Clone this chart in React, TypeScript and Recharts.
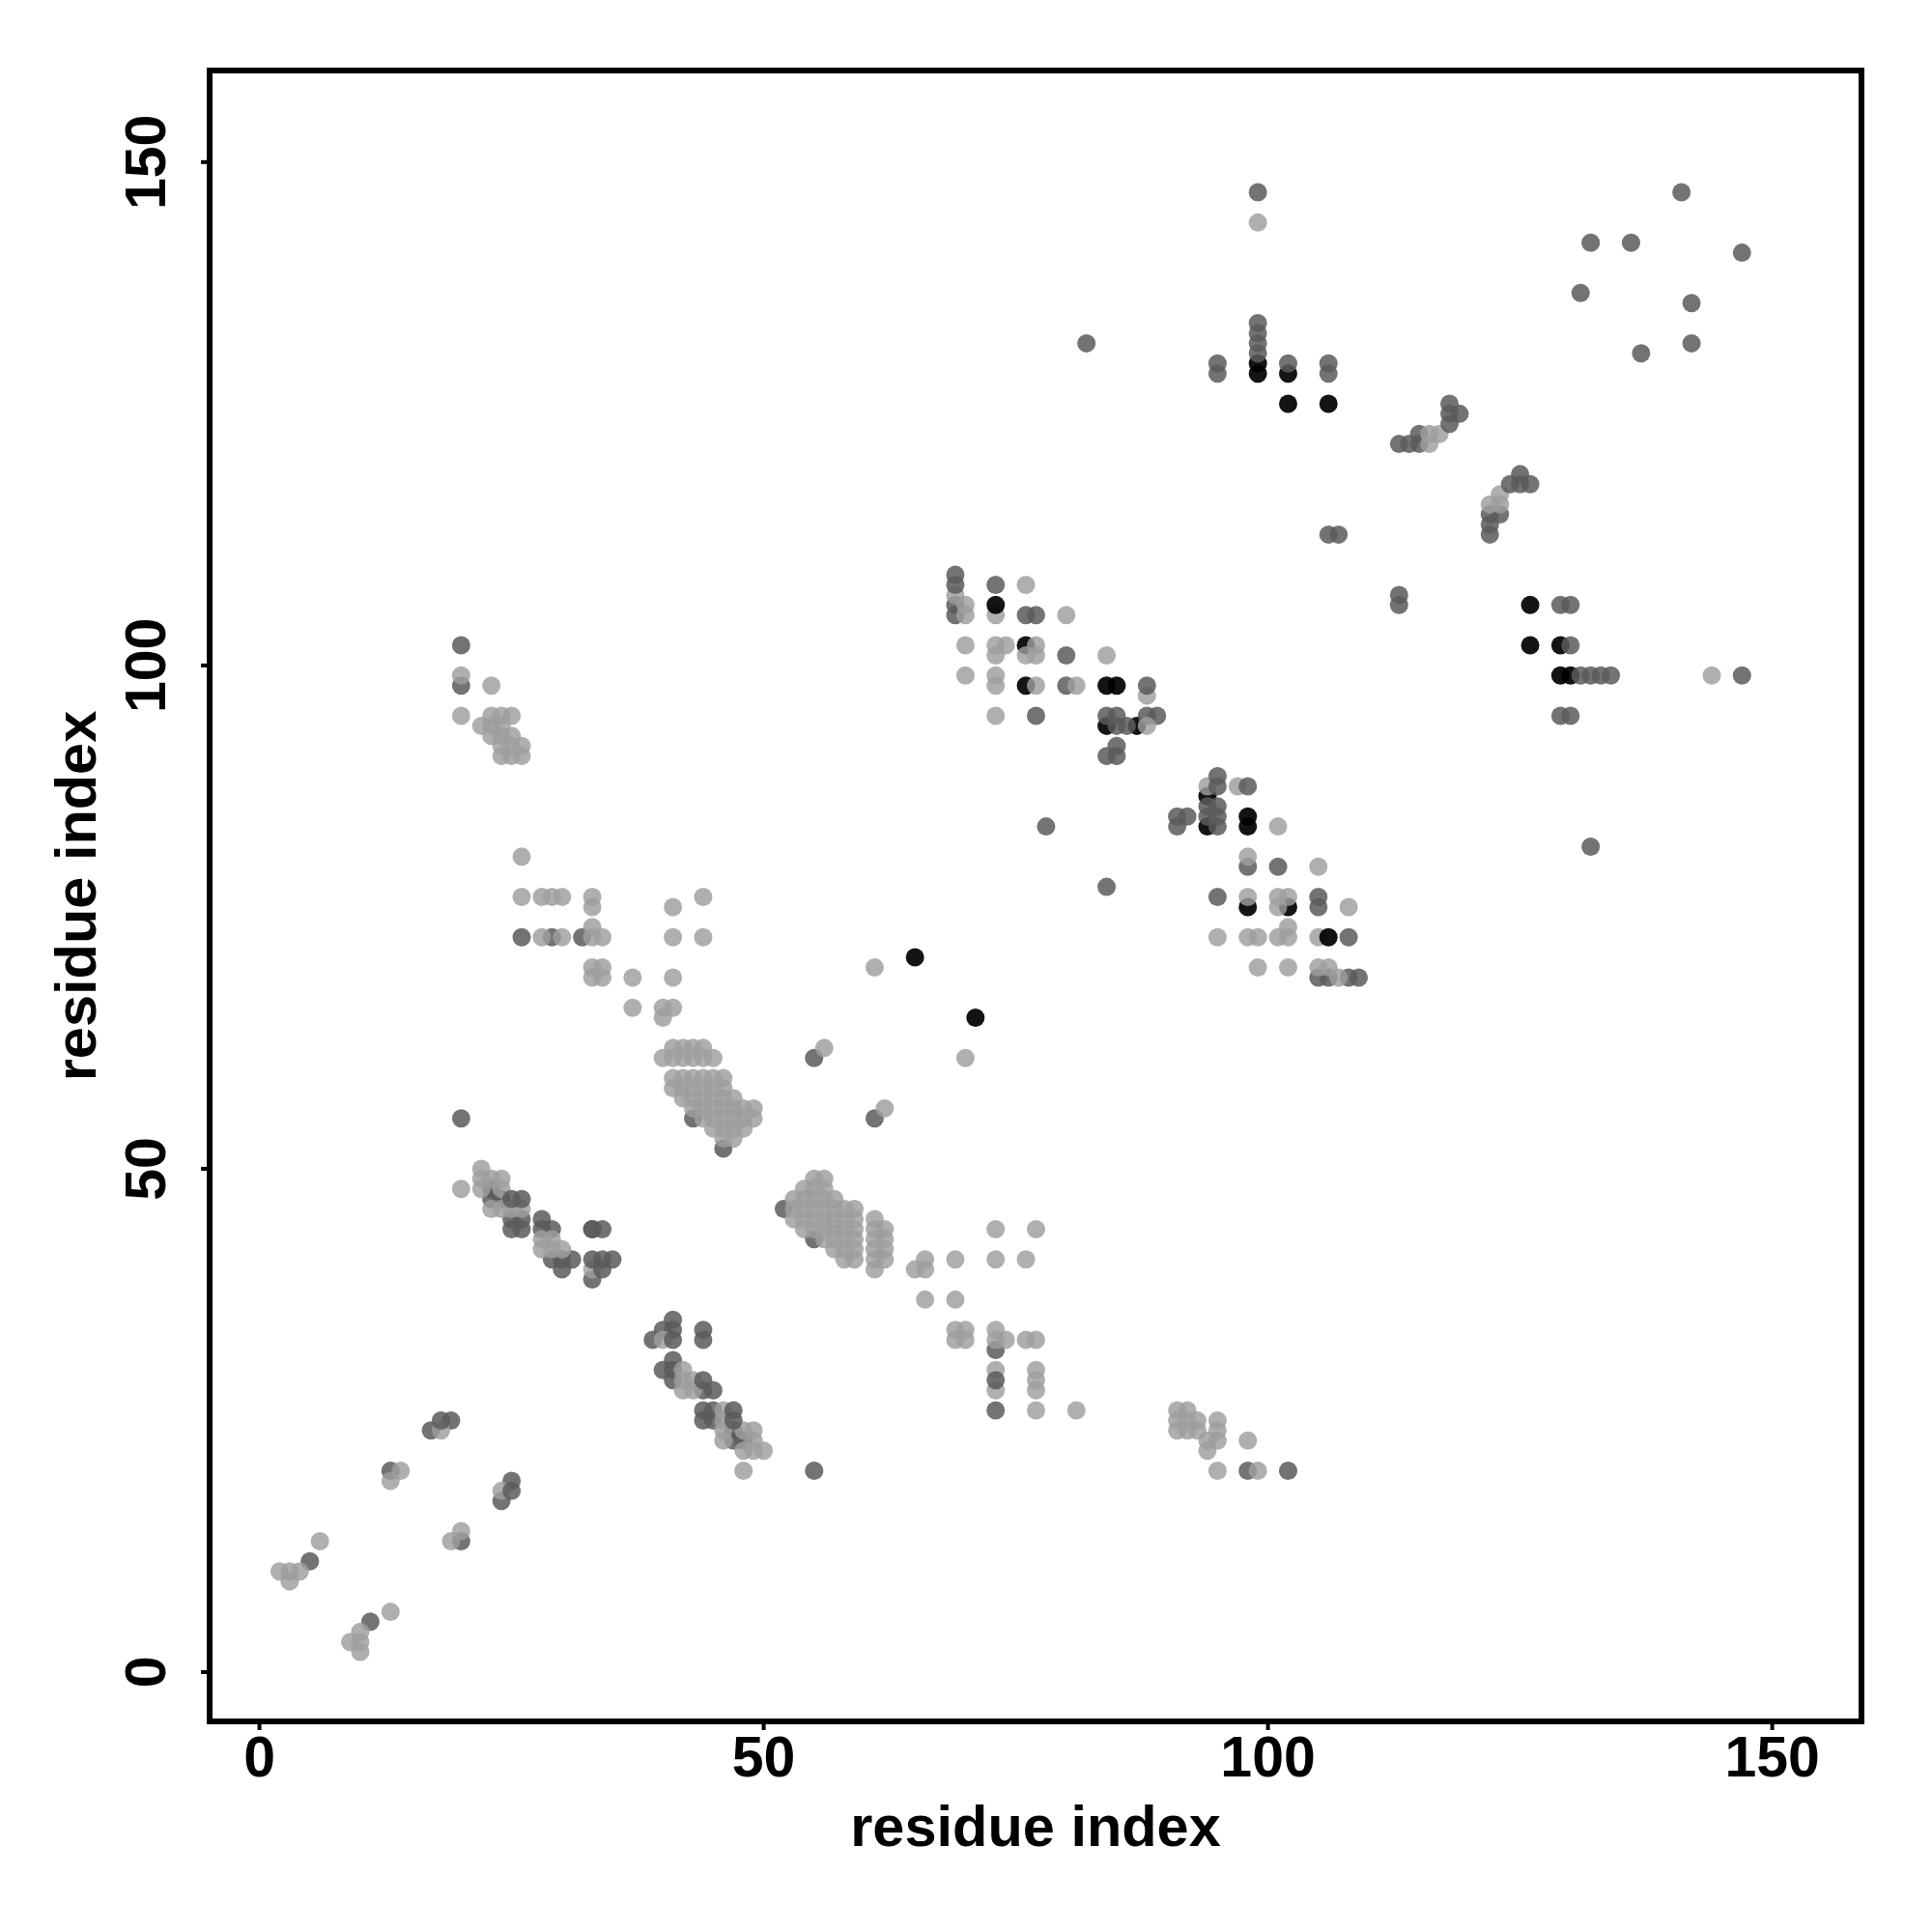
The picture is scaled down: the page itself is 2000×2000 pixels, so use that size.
import { ScatterChart, Scatter, XAxis, YAxis, ReferenceArea, Label } from "recharts";

const xTicks = [0, 50, 100, 150];
const yTicks = [0, 50, 100, 150];
const axisTitle = "residue index";
const xDomain = [-4.94, 158.85];
const yDomain = [-4.9, 159.1];

// contacts as [residue, residue]
const darkContacts = [
  [65, 71], [71, 65], [76, 102], [76, 98], [84, 98], [85, 98], [84, 94], [87, 94],
  [94, 87], [94, 84], [98, 85], [98, 84], [98, 76], [102, 76],
  [99, 130], [99, 129], [102, 129], [102, 126], [106, 126],
  [126, 106], [126, 102], [129, 102], [129, 99], [130, 99],
];
const midContacts = [
  [11, 5], [5, 11], [20, 13], [24, 17], [25, 19], [13, 20], [17, 24], [19, 25], [20, 55],
  [23, 48], [23, 47], [24, 47], [25, 45], [26, 45], [25, 44], [26, 44],
  [28, 45], [28, 44], [29, 44], [29, 41], [30, 41], [30, 40], [31, 41],
  [33, 44], [34, 44], [35, 41], [33, 39],
  [41, 35], [40, 34], [41, 34], [39, 33], [44, 34], [44, 33],
  [41, 31], [40, 30], [41, 30], [41, 29], [44, 28], [45, 28],
  [44, 26], [45, 26], [44, 25], [45, 25], [47, 24], [47, 23], [48, 23],
  [55, 20], [98, 20], [102, 20], [43, 55], [46, 52], [55, 61], [61, 55], [52, 46], [55, 43],
  [73, 32], [73, 26], [20, 102], [20, 98], [26, 73], [29, 73], [32, 73],
  [69, 106], [69, 105], [73, 108], [76, 105], [77, 105], [80, 101], [80, 98],
  [77, 95], [84, 95], [85, 95], [85, 94], [86, 94], [88, 95], [89, 95],
  [85, 92], [84, 91], [85, 91], [78, 84], [91, 85], [91, 84], [92, 85],
  [94, 86], [94, 85], [95, 86], [95, 85], [95, 84],
  [98, 80], [101, 80], [95, 77], [105, 77], [105, 76], [108, 73],
  [105, 69], [106, 69], [108, 69], [109, 69],
  [99, 147], [141, 147], [132, 142], [136, 142], [147, 141], [131, 137],
  [142, 136], [142, 132], [137, 131], [82, 132],
  [99, 134], [99, 133], [99, 132], [99, 131], [95, 130], [95, 129],
  [102, 130], [106, 130], [106, 129],
  [118, 126], [118, 125], [119, 125], [115, 123], [115, 122], [114, 122], [113, 122],
  [125, 119], [125, 118], [126, 118], [122, 115], [123, 115], [122, 114], [122, 113],
  [106, 113], [107, 113], [113, 107], [113, 106], [129, 106], [130, 106], [130, 102],
  [131, 99], [132, 99], [133, 99], [134, 99], [147, 99], [129, 95], [130, 95],
  [132, 82], [84, 78],
];
const lightContacts = [
  [10, 2], [9, 3], [10, 3], [10, 4], [13, 6], [3, 9], [2, 10], [3, 10], [4, 10], [6, 13],
  [19, 13], [20, 14], [24, 18], [13, 19], [14, 20], [18, 24], [20, 48],
  [22, 50], [22, 49], [22, 48], [23, 49], [24, 49], [24, 48], [23, 46], [24, 46], [25, 46], [26, 46],
  [28, 43], [28, 42], [29, 43], [29, 42], [30, 42], [33, 40],
  [40, 33], [42, 30], [42, 29], [42, 28], [43, 29], [43, 28],
  [46, 26], [46, 25], [46, 24], [46, 23], [48, 24], [49, 24], [49, 23], [48, 22], [49, 22], [50, 22], [48, 20],
  [41, 62], [42, 62], [43, 62], [44, 62], [40, 61], [41, 61], [42, 61], [43, 61], [44, 61], [45, 61],
  [41, 59], [42, 59], [43, 59], [44, 59], [45, 59], [46, 59],
  [41, 58], [42, 58], [43, 58], [44, 58], [45, 58], [46, 58],
  [42, 57], [43, 57], [44, 57], [45, 57], [46, 57], [47, 57],
  [43, 56], [44, 56], [45, 56], [46, 56], [47, 56], [48, 56], [49, 56],
  [44, 55], [45, 55], [46, 55], [47, 55], [48, 55], [49, 55],
  [45, 54], [46, 54], [47, 54], [48, 54], [46, 53], [47, 53],
  [56, 62], [62, 56],
  [55, 49], [56, 49], [54, 48], [55, 48], [56, 48], [53, 47], [54, 47], [55, 47], [56, 47], [57, 47],
  [53, 46], [54, 46], [55, 46], [56, 46], [57, 46], [58, 46], [59, 46],
  [53, 45], [54, 45], [55, 45], [56, 45], [57, 45], [58, 45], [59, 45],
  [54, 44], [55, 44], [56, 44], [57, 44], [58, 44], [59, 44],
  [56, 43], [57, 43], [58, 43], [59, 43], [57, 42], [58, 42], [59, 42], [58, 41], [59, 41],
  [61, 45], [61, 44], [61, 43], [61, 42], [61, 41], [61, 40], [62, 44], [62, 43], [62, 42], [62, 41],
  [65, 40], [66, 40], [66, 41], [69, 41], [73, 41], [76, 41], [73, 44], [77, 44],
  [66, 37], [69, 37], [69, 34], [70, 34], [69, 33], [70, 33],
  [73, 34], [73, 33], [74, 33], [76, 33], [77, 33], [73, 30], [73, 28],
  [77, 30], [77, 29], [77, 28], [77, 26], [81, 26],
  [91, 26], [92, 26], [91, 25], [92, 25], [91, 24], [92, 24], [93, 25], [93, 24],
  [95, 25], [95, 24], [95, 23], [94, 23], [94, 22], [95, 20], [98, 23], [99, 20],
  [20, 99], [23, 98], [20, 95], [23, 95], [24, 95], [25, 95], [22, 94], [23, 94], [24, 94],
  [23, 93], [24, 93], [25, 93], [24, 92], [25, 92], [26, 92], [24, 91], [25, 91], [26, 91],
  [26, 81], [26, 77], [28, 77], [29, 77], [30, 77], [33, 77], [33, 76], [33, 74], [33, 73], [34, 73],
  [28, 73], [30, 73], [41, 76], [44, 77], [41, 73], [44, 73],
  [33, 70], [34, 70], [33, 69], [34, 69], [37, 69], [41, 69], [37, 66], [40, 66], [41, 66], [40, 65],
  [61, 70], [70, 61],
  [69, 107], [70, 106], [70, 105], [73, 105], [76, 108], [80, 105],
  [70, 102], [73, 102], [74, 102], [73, 101], [77, 102], [76, 101], [77, 101], [84, 101],
  [70, 99], [73, 99], [73, 98], [77, 98], [81, 98], [88, 97], [73, 95], [88, 94],
  [94, 88], [97, 88], [101, 84], [98, 81], [105, 80],
  [98, 77], [101, 77], [102, 77], [101, 76], [108, 76], [102, 74],
  [95, 73], [98, 73], [99, 73], [101, 73], [102, 73], [105, 73],
  [99, 70], [102, 70], [105, 70], [106, 70], [107, 69],
  [99, 144], [117, 123], [116, 123], [116, 122], [123, 117], [122, 116], [123, 116], [144, 99],
];
// these sit over the light dots in the reference
const midOnTop = [
  [18, 25], [25, 18], [25, 47], [26, 47], [33, 41], [34, 41], [33, 44], [34, 40], [41, 33], [44, 29],
  [47, 26], [47, 25], [73, 29], [69, 109], [69, 108], [88, 98], [95, 89], [95, 88], [98, 88], [118, 124], [124, 118],
];
const darkOnTop = [[73, 106], [106, 73]];

const LIGHT = "#9e9e9e";
const MID = "#5a5a5a";
const DARK = "#000000";
const FONT = "'Liberation Sans', Arial, sans-serif";

const toPoints = (pairs: number[][]) => pairs.map(([x, y]) => ({ x, y }));

function dot(fill: string, opacity: number) {
  return (props: any) => <circle cx={props.cx} cy={props.cy} r={9.5} fill={fill} fillOpacity={opacity} />;
}

function XTick({ x, y, payload }: any) {
  return (
    <text x={x} y={y + 46} textAnchor="middle" fontSize={59} fontWeight="bold" fontFamily={FONT} fill="#000">
      {payload.value}
    </text>
  );
}

function YTick({ x, y, payload }: any) {
  return (
    <text
      x={x}
      y={y}
      dy={-35}
      transform={`rotate(-90 ${x} ${y})`}
      textAnchor="middle"
      fontSize={59}
      fontWeight="bold"
      fontFamily={FONT}
      fill="#000"
    >
      {payload.value}
    </text>
  );
}

const titleStyle = { fontSize: 59.5, fontWeight: "bold", fontFamily: FONT, fill: "#000" };

export default function App() {
  return (
    <div style={{ position: "absolute", left: 0, top: 0, width: 2000, height: 2000, background: "#fff" }}>
      <ScatterChart width={2000} height={2000} margin={{ top: 73, right: 73, bottom: 0, left: 0 }}>
        <XAxis
          type="number"
          dataKey="x"
          domain={xDomain}
          ticks={xTicks}
          height={218}
          interval={0}
          allowDataOverflow
          axisLine={false}
          tickSize={9}
          tickLine={{ stroke: "#000", strokeWidth: 4 }}
          tick={<XTick />}
        >
          <Label value={axisTitle} position="insideBottom" offset={89} style={titleStyle} />
        </XAxis>
        <YAxis
          type="number"
          dataKey="y"
          domain={yDomain}
          ticks={yTicks}
          width={217}
          interval={0}
          allowDataOverflow
          axisLine={false}
          tickSize={9}
          tickLine={{ stroke: "#000", strokeWidth: 4 }}
          tick={<YTick />}
        >
          <Label value={axisTitle} angle={-90} position="insideLeft" offset={78} style={{ ...titleStyle, textAnchor: "middle" }} />
        </YAxis>
        <Scatter data={toPoints(darkContacts)} shape={dot(DARK, 0.92)} isAnimationActive={false} />
        <Scatter data={toPoints(midContacts)} shape={dot(MID, 0.85)} isAnimationActive={false} />
        <Scatter data={toPoints(lightContacts)} shape={dot(LIGHT, 0.82)} isAnimationActive={false} />
        <Scatter data={toPoints(midOnTop)} shape={dot(MID, 0.85)} isAnimationActive={false} />
        <Scatter data={toPoints(darkOnTop)} shape={dot(DARK, 0.92)} isAnimationActive={false} />
        <ReferenceArea
          x1={xDomain[0]}
          x2={xDomain[1]}
          y1={yDomain[0]}
          y2={yDomain[1]}
          fill="none"
          stroke="#000"
          strokeWidth={6}
          ifOverflow="visible"
        />
      </ScatterChart>
    </div>
  );
}
